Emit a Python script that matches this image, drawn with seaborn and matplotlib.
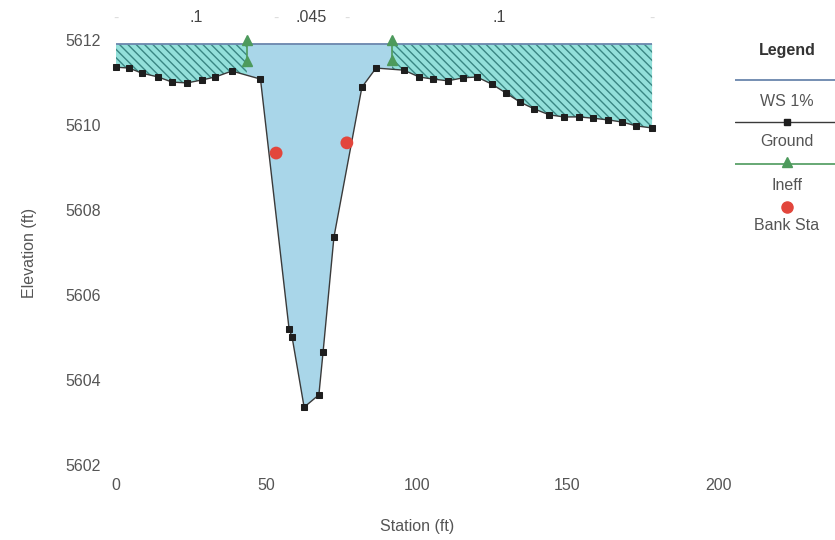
import numpy as np
import pandas as pd
import matplotlib
matplotlib.use("Agg")
import matplotlib.pyplot as plt
import matplotlib.transforms as mtransforms
import seaborn as sns

ground_sta = [0, 4.3, 8.6, 14, 18.6, 23.6, 28.6, 33, 38.5, 48,
              57.5, 58.5, 62.5, 67.4, 68.8, 72.4, 81.7, 86.4,
              95.7, 100.7, 105.3, 110.3, 115.3, 119.9, 124.9, 129.6,
              134.2, 138.9, 143.9, 148.8, 153.8, 158.5, 163.5, 168.1,
              172.8, 178.1]
ground_elev = [5611.36, 5611.34, 5611.22, 5611.13, 5611.01, 5610.99, 5611.06,
               5611.13, 5611.27, 5611.08, 5605.20, 5605.01, 5603.36, 5603.65,
               5604.66, 5607.36, 5610.89, 5611.34, 5611.29, 5611.13, 5611.08,
               5611.04, 5611.11, 5611.13, 5610.96, 5610.75, 5610.54, 5610.38,
               5610.24, 5610.19, 5610.19, 5610.16, 5610.12, 5610.07, 5609.98,
               5609.93]
ws_elev = 5611.9
ineff_sta = [43.5, 91.7]
ineff_low = [5611.5, 5611.52]
ineff_high = [5612.0, 5612.0]
bank_sta = [53.2, 76.7]
bank_elev = [5609.34, 5609.58]
n_values = [".1", ".045", ".1"]
n_bounds = [0, 53.2, 76.7, 178.1]

ground = pd.DataFrame({"Station": ground_sta, "Elevation": ground_elev})

# ---- styling ----
sns.set_theme(style="white")
plt.rcParams["font.family"] = ["Liberation Sans", "DejaVu Sans"]
plt.rcParams["hatch.linewidth"] = 1.0

water_blue = "#a9d6e9"
ineff_fill = "#93e0da"
ineff_hatch = "#3a8683"
ws_color = "#6a86ad"
ground_color = "#3a3a3a"
ineff_color = "#4d9a5c"
bank_color = "#e2463c"
text_gray = "#555555"

fig = plt.figure(figsize=(8.35, 5.40), dpi=100)
ax = fig.add_axes([116 / 835, 1 - 465 / 540, 602 / 835, 425 / 540])

# water surface fills
xs_all = np.linspace(ground_sta[0], ground_sta[-1], 3000)
g_all = np.interp(xs_all, ground_sta, ground_elev)
left = xs_all <= ineff_sta[0]
mid = (xs_all >= ineff_sta[0]) & (xs_all <= ineff_sta[1])
right = xs_all >= ineff_sta[1]

ax.fill_between(xs_all, g_all, ws_elev, where=mid, facecolor=water_blue,
                edgecolor="none", linewidth=0, interpolate=True)
for m in (left, right):
    ax.fill_between(xs_all, g_all, ws_elev, where=m, facecolor=ineff_fill,
                    edgecolor=ineff_hatch, hatch="\\\\\\\\", linewidth=0,
                    interpolate=True)

# water surface line
ax.plot([ground_sta[0], ground_sta[-1]], [ws_elev, ws_elev], color=ws_color,
        linewidth=1.3, solid_capstyle="butt")

# ground
sns.lineplot(data=ground, x="Station", y="Elevation", sort=False, ax=ax,
             color=ground_color, linewidth=1.0, marker="s", markersize=5,
             markerfacecolor="#1e1e1e", markeredgecolor="#1e1e1e", clip_on=False)

# ineffective flow markers
for s, lo, hi in zip(ineff_sta, ineff_low, ineff_high):
    ax.plot([s, s], [lo, hi], color=ineff_color, linewidth=1.2, marker="^",
            markersize=6.5, markerfacecolor=ineff_color, markeredgecolor=ineff_color,
            clip_on=False)

# bank stations
sns.scatterplot(x=bank_sta, y=bank_elev, ax=ax, color=bank_color, s=85,
                edgecolor="none", zorder=5, clip_on=False)

# Manning's n labels along the top
trans = mtransforms.blended_transform_factory(ax.transData, ax.transAxes)
for i, lab in enumerate(n_values):
    xm = (n_bounds[i] + n_bounds[i + 1]) / 2
    ax.text(xm, 1.052, lab, transform=trans, ha="center", va="center",
            fontsize=11.5, color="#444444")
for b in n_bounds:
    ax.text(b, 1.052, "-", transform=trans, ha="center", va="center",
            fontsize=11.5, color="#dddddd")

# axes
ax.set_xlim(0, 200)
ax.set_ylim(5602, 5612)
ax.set_xticks([0, 50, 100, 150, 200])
ax.set_yticks([5602, 5604, 5606, 5608, 5610, 5612])
ax.tick_params(axis="x", labelsize=11.5, colors=text_gray, pad=9, length=0)
ax.tick_params(axis="y", labelsize=11.5, colors=text_gray, pad=11, length=0)
ax.set_xlabel("Station (ft)", fontsize=11.5, color=text_gray, labelpad=19)
ax.set_ylabel("Elevation (ft)", fontsize=11.5, color=text_gray, labelpad=20)
sns.despine(ax=ax, left=True, bottom=True)
ax.grid(False)

# ---- legend panel on the right ----
lg = fig.add_axes([735 / 835, 1 - 240 / 540, 100 / 835, 205 / 540])
lg.set_xlim(0, 100)
lg.set_ylim(240, 35)
lg.axis("off")
lg.text(52, 50, "Legend", ha="center", va="center", fontsize=11.5,
        fontweight="bold", color="#333333")
lg.plot([0, 100], [80, 80], color=ws_color, linewidth=1.3)
lg.text(52, 101, "WS 1%", ha="center", va="center", fontsize=11.5, color=text_gray)
lg.plot([0, 100], [122, 122], color=ground_color, linewidth=1.0)
lg.plot([52], [122], marker="s", markersize=5, color="#1e1e1e")
lg.text(52, 142, "Ground", ha="center", va="center", fontsize=11.5, color=text_gray)
lg.plot([0, 100], [164, 164], color=ineff_color, linewidth=1.2)
lg.plot([52], [162], marker="^", markersize=6.5, color=ineff_color)
lg.text(52, 185, "Ineff", ha="center", va="center", fontsize=11.5, color=text_gray)
lg.plot([52], [207], marker="o", markersize=8, color=bank_color)
lg.text(52, 226, "Bank Sta", ha="center", va="center", fontsize=11.5, color=text_gray)

fig.savefig("out.png", dpi=100)
